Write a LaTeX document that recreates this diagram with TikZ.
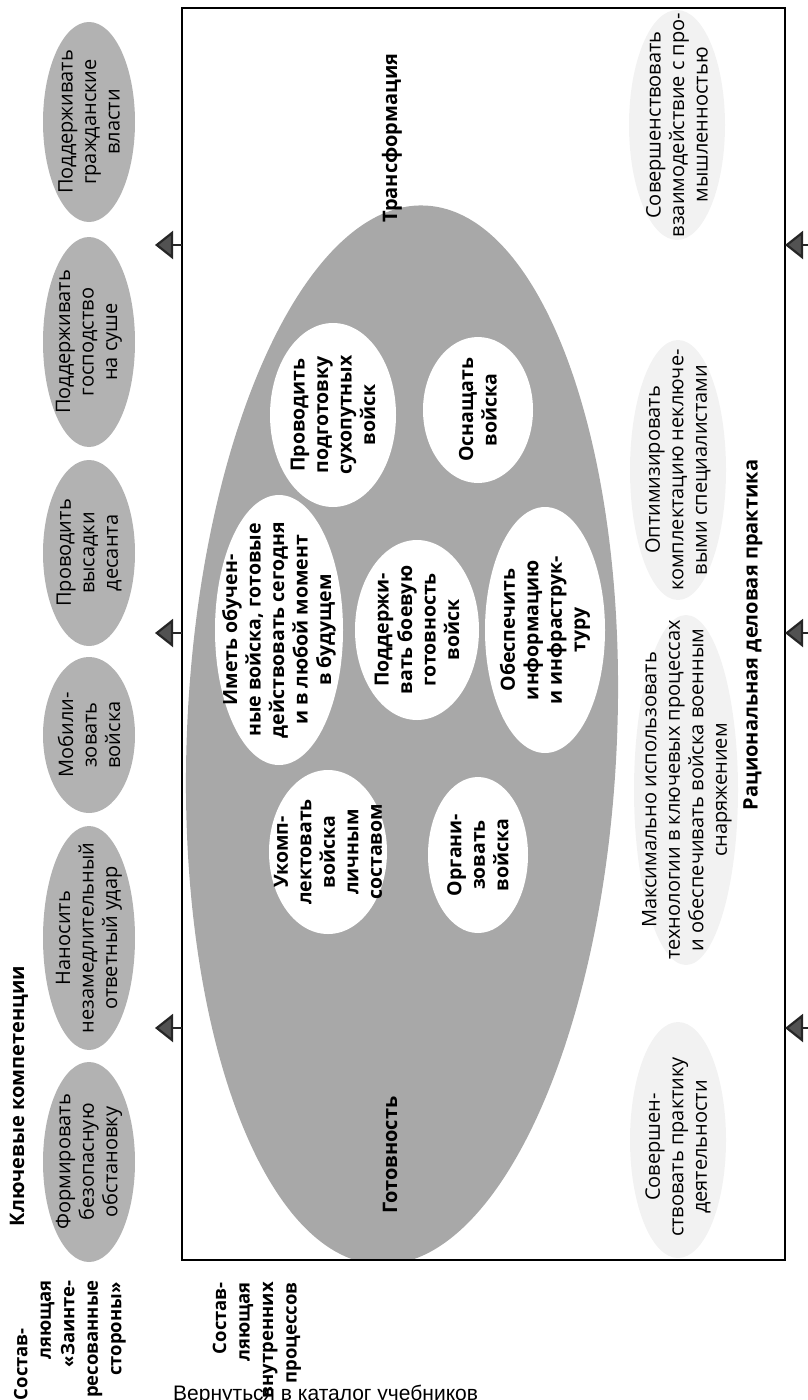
\documentclass[tikz,border=0pt]{standalone}
\usepackage{fontspec}
\setmainfont{Open Sans}
\newfontfamily\libsans{Liberation Sans}
\usetikzlibrary{shapes.geometric,arrows.meta}
\definecolor{bigfill}{gray}{0.66}
\definecolor{topfill}{gray}{0.70}
\definecolor{palefill}{gray}{0.95}
\definecolor{arrfill}{gray}{0.32}
\tikzset{
  greyell/.style={ellipse, fill=topfill, draw=none, inner sep=0pt},
  whiteell/.style={ellipse, fill=white, draw=none, inner sep=0pt},
  paleell/.style={ellipse, fill=palefill, draw=none, inner sep=0pt},
  txt/.style={rotate=90, align=center, inner sep=0pt, font=\fontsize{20}{23.5}\selectfont},
  btxt/.style={rotate=90, align=center, inner sep=0pt, font=\fontsize{19.5}{23.5}\selectfont\bfseries},
  hdr/.style={rotate=90, inner sep=0pt, font=\fontsize{20}{24}\selectfont\bfseries},
  lbl/.style={rotate=90, align=right, anchor=east, inner sep=0pt, font=\fontsize{18.5}{23.5}\selectfont\bfseries},
  arr/.style={draw=black!85, line width=2.2pt, -{Triangle[width=28pt,length=18pt,fill=arrfill]}},
  boxline/.style={draw=black, line width=1.3pt}
}
\begin{document}
\begin{tikzpicture}[x=1pt,y=-1pt]
\useasboundingbox (0,0) rectangle (808,1400);
\coordinate (bnw) at (182,8);
\coordinate (bse) at (785,1260);

% key competencies ellipses
\node[greyell, minimum width=92pt, minimum height=200pt] (k1e) at (89,122) {};
\node[greyell, minimum width=92pt, minimum height=210pt] (k2e) at (89,342) {};
\node[greyell, minimum width=92pt, minimum height=186pt] (k3e) at (89,553) {};
\node[greyell, minimum width=92pt, minimum height=156pt] (k4e) at (89,735) {};
\node[greyell, minimum width=92pt, minimum height=224pt] (k5e) at (89,938) {};
\node[greyell, minimum width=92pt, minimum height=200pt] (k6e) at (89,1162) {};
\node[txt] (k1) at (k1e) {Поддерживать\\гражданские\\власти};
\node[txt] (k2) at (k2e) {Поддерживать\\господство\\на суше};
\node[txt] (k3) at (k3e) {Проводить\\высадки\\десанта};
\node[txt] (k4) at (k4e) {Мобили-\\зовать\\войска};
\node[txt] (k5) at (k5e) {Наносить\\незамедлительный\\ответный удар};
\node[txt] (k6) at (k6e) {Формировать\\безопасную\\обстановку};
\node[hdr] (keyhdr) at (19,1096) {Ключевые компетенции};

% side labels
\node[lbl] (lab1) at (70,1280) {Состав-\hspace*{48pt}\\ляющая\hspace*{56pt}\\«Заинте-\hspace*{32pt}\\ресованные\\стороны»\hspace*{2pt}};
\node[lbl] (lab2) at (257,1282) {Состав-\\ляющая\\внутренних\\процессов};

% big readiness ellipse
\begin{scope}
  \clip (bnw) rectangle (bse);
  \node[ellipse, fill=bigfill, draw=none, inner sep=0pt, minimum width=430pt, minimum height=1060pt, rotate=-2.5] (ready) at (402,735) {};
\end{scope}

% white ellipses
\node[whiteell, minimum width=126pt, minimum height=184pt] (c1e) at (333,415) {};
\node[whiteell, minimum width=110pt, minimum height=146pt] (c2e) at (478,410) {};
\node[whiteell, minimum width=128pt, minimum height=270pt] (c3e) at (279,630) {};
\node[whiteell, minimum width=124pt, minimum height=180pt] (c4e) at (417,630) {};
\node[whiteell, minimum width=120pt, minimum height=246pt] (c5e) at (545,630) {};
\node[whiteell, minimum width=118pt, minimum height=164pt] (c6e) at (328,852) {};
\node[whiteell, minimum width=100pt, minimum height=156pt] (c7e) at (478,855) {};
\node[btxt] (c1) at (c1e) {Проводить\\подготовку\\сухопутных\\войск};
\node[btxt] (c2) at (c2e) {Оснащать\\войска};
\node[btxt] (c3) at (c3e) {Иметь обучен-\\ные войска, готовые\\действовать сегодня\\и в любой момент\\в будущем};
\node[btxt] (c4) at (c4e) {Поддержи-\\вать боевую\\готовность\\войск};
\node[btxt] (c5) at (c5e) {Обеспечить\\информацию\\и инфраструк-\\туру};
\node[btxt] (c6) at (c6e) {Укомп-\\лектовать\\войска\\личным\\составом};
\node[btxt] (c7) at (c7e) {Органи-\\зовать\\войска};

\node[hdr] (trans) at (392,138) {Трансформация};
\node[hdr] (gotov) at (390,1155) {Готовность};

% business practice
\node[paleell, minimum width=96pt, minimum height=230pt] (p1e) at (677,125) {};
\node[paleell, minimum width=96pt, minimum height=260pt] (p2e) at (678,470) {};
\node[paleell, minimum width=104pt, minimum height=350pt] (p3e) at (686,790) {};
\node[paleell, minimum width=96pt, minimum height=236pt] (p4e) at (678,1140) {};
\node[txt] (p1) at (677,125) {Совершенствовать\\взаимодействие с про-\\мышленностью};
\node[txt] (p2) at (678,470) {Оптимизировать\\комплектацию неключе-\\выми специалистами};
\node[txt] (p3) at (687,790) {Максимально использовать\\технологии в ключевых процессах\\и обеспечивать войска военным\\снаряжением};
\node[txt] (p4) at (678,1147) {Совершен-\\ствовать практику\\деятельности};
\node[hdr] (rdp) at (753,635) {Рациональная деловая практика};

% frame
\draw[boxline] (bnw) rectangle (bse);

% arrows
\coordinate (la1) at (155,245);
\coordinate (la2) at (155,633);
\coordinate (la3) at (155,1028);
\coordinate (ra1) at (815,245);
\coordinate (ra2) at (815,633);
\coordinate (ra3) at (815,1028);
\draw[arr] (bnw |- la1) -- (la1);
\draw[arr] (bnw |- la2) -- (la2);
\draw[arr] (bnw |- la3) -- (la3);
\draw[arr] (ra1) -- (bse |- ra1);
\draw[arr] (ra2) -- (bse |- ra2);
\draw[arr] (ra3) -- (bse |- ra3);

\node[anchor=north west, inner sep=0pt, font=\libsans\fontsize{21}{24}\selectfont] (back) at (173,1385) {Вернуться в каталог учебников};
\end{tikzpicture}
\end{document}
